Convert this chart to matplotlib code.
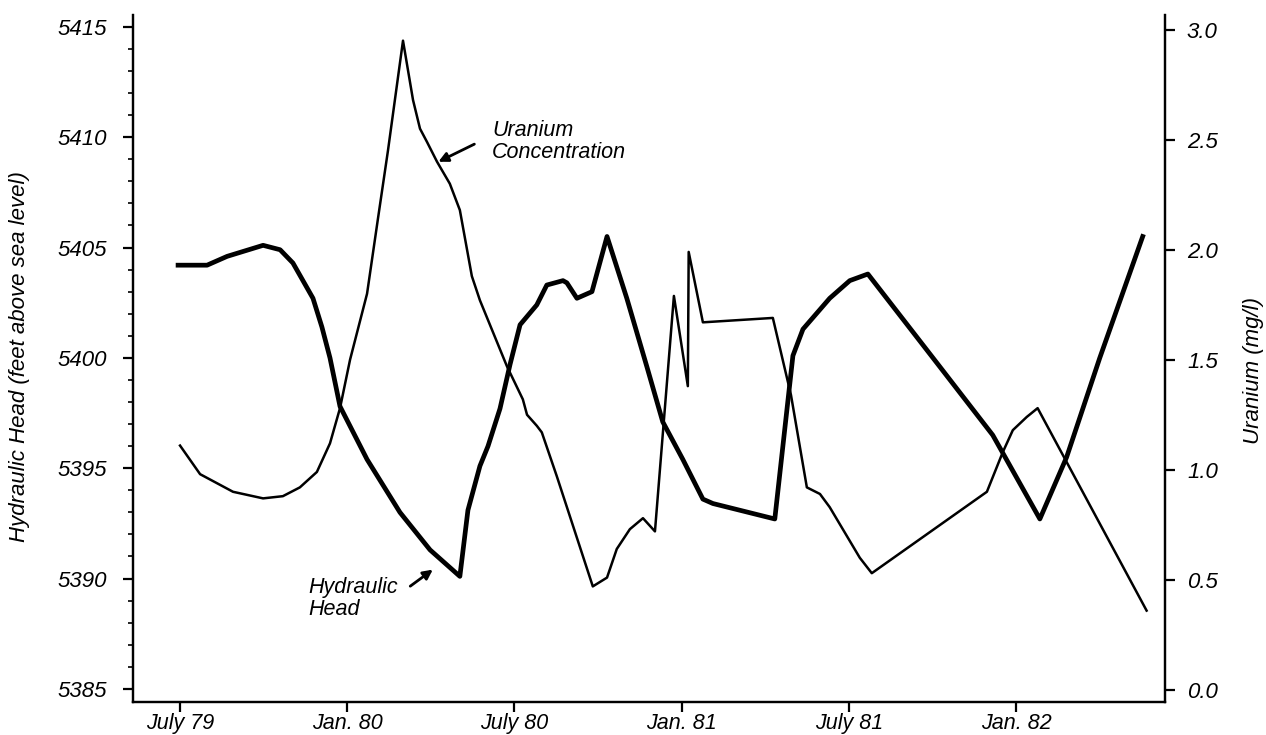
import matplotlib.pyplot as plt
import matplotlib.ticker as mticker

plt.rcParams['font.family'] = ['Liberation Sans', 'DejaVu Sans']
plt.rcParams['font.style'] = 'italic'

# months after July 1979
head_months = [-0.07, 0.97, 1.69, 2.98, 3.59, 4.05, 4.41, 4.77, 5.09, 5.38,
               5.74, 6.71, 7.89, 8.97, 10.04, 10.33, 10.76, 11.05, 11.48, 11.84,
               12.20, 12.80, 13.16, 13.74, 13.88, 14.24, 14.78, 15.32, 16.03, 16.75,
               17.32, 18.04, 18.76, 19.12, 21.34, 21.99, 22.35, 23.31, 24.03, 24.68,
               27.26, 29.16, 30.85, 31.81, 33.00, 34.54]
head_ft = [5404.2, 5404.2, 5404.6, 5405.1, 5404.9, 5404.3, 5403.5, 5402.7, 5401.4, 5400.0,
           5397.8, 5395.4, 5393.0, 5391.3, 5390.1, 5393.1, 5395.1, 5396.0, 5397.7, 5399.7,
           5401.5, 5402.4, 5403.3, 5403.5, 5403.4, 5402.7, 5403.0, 5405.5, 5402.7, 5399.6,
           5397.1, 5395.4, 5393.6, 5393.4, 5392.7, 5400.1, 5401.3, 5402.7, 5403.5, 5403.8,
           5399.6, 5396.5, 5392.7, 5395.5, 5400.0, 5405.5]

uranium_months = [0.00, 0.72, 1.90, 2.98, 3.69, 4.30, 4.91, 5.38, 5.74, 6.10,
                  6.71, 7.10, 7.46, 8.00, 8.36, 8.61, 8.86, 9.22, 9.68, 10.04,
                  10.47, 10.76, 11.73, 12.30, 12.45, 12.80, 12.98, 13.52, 14.81, 15.32,
                  15.67, 16.14, 16.61, 17.04, 17.72, 18.22, 18.25, 18.76, 21.27, 21.92,
                  22.49, 22.96, 23.31, 24.39, 24.82, 28.95, 29.52, 29.88, 30.38, 30.77,
                  34.68]
uranium_mgl = [1.11, 0.98, 0.90, 0.87, 0.88, 0.92, 0.99, 1.12, 1.28, 1.50,
               1.80, 2.14, 2.45, 2.95, 2.68, 2.55, 2.49, 2.40, 2.30, 2.18,
               1.88, 1.77, 1.47, 1.32, 1.25, 1.20, 1.17, 0.97, 0.47, 0.51,
               0.64, 0.73, 0.78, 0.72, 1.79, 1.38, 1.99, 1.67, 1.69, 1.34,
               0.92, 0.89, 0.83, 0.60, 0.53, 0.90, 1.08, 1.18, 1.24, 1.28,
               0.36]

x_ticks = [0, 6, 12, 18, 24, 30]
x_labels = ['July 79', 'Jan. 80', 'July 80', 'Jan. 81', 'July 81', 'Jan. 82']
head_ticks = [5385, 5390, 5395, 5400, 5405, 5410, 5415]
uranium_ticks = [0.0, 0.5, 1.0, 1.5, 2.0, 2.5, 3.0]

fig = plt.figure(figsize=(12.66, 7.35), dpi=100)
ax = fig.add_axes([0.105, 0.045, 0.815, 0.935])
ax2 = ax.twinx()

ax.plot(head_months, head_ft, color='black', lw=3.4, solid_joinstyle='round')
ax2.plot(uranium_months, uranium_mgl, color='black', lw=1.8)

ax.set_xlim(-1.69, 35.33)
ax.set_ylim(5384.41, 5415.55)
ax2.set_ylim(-0.055, 3.068)

ax.set_xticks(x_ticks)
ax.set_xticklabels(x_labels)
ax.set_yticks(head_ticks)
ax.yaxis.set_minor_locator(mticker.MultipleLocator(1))
ax2.set_yticks(uranium_ticks)
ax2.set_yticklabels(['%.1f' % t for t in uranium_ticks])

for a in (ax, ax2):
    a.spines['top'].set_visible(False)
    for s in a.spines.values():
        s.set_linewidth(1.6)
    a.tick_params(which='major', length=7, width=1.6, labelsize=16, direction='out')
    a.tick_params(which='minor', length=3.5, width=1.2, direction='out')
ax.tick_params(axis='y', pad=12)
ax.tick_params(axis='x', pad=1, labelsize=15.5)
ax2.tick_params(axis='y', pad=9)

ax.set_ylabel('Hydraulic Head (feet above sea level)', fontsize=16)
ax.yaxis.set_label_coords(-0.1, 0.502)
ax2.set_ylabel('Uranium (mg/l)', fontsize=16, rotation=90)
ax2.yaxis.set_label_coords(1.0756, 0.482)

ax.text(11.19, 5409.8, 'Uranium\nConcentration', fontsize=15.5, ha='left', va='center',
        linespacing=1.05)
ax.annotate('', xy=(9.18, 5408.83), xytext=(10.65, 5409.74),
            arrowprops=dict(arrowstyle='-|>', color='black', lw=2, mutation_scale=14))
ax.text(4.59, 5389.1, 'Hydraulic\nHead', fontsize=15.5, ha='left', va='center',
        linespacing=1.05)
ax.annotate('', xy=(9.15, 5390.48), xytext=(8.18, 5389.58),
            arrowprops=dict(arrowstyle='-|>', color='black', lw=2, mutation_scale=14))

plt.savefig('out.png', dpi=100)
